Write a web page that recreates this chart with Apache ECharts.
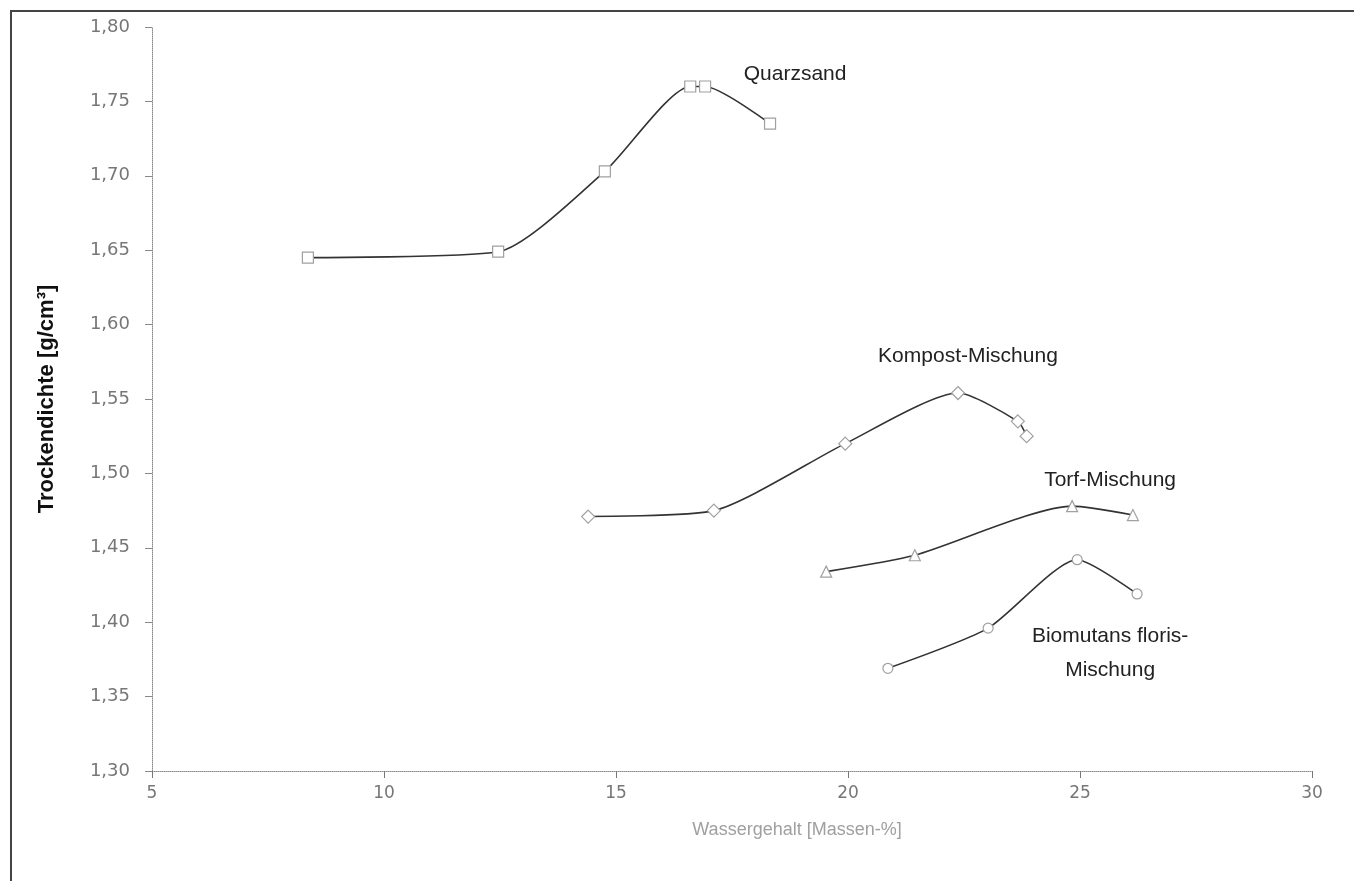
<!DOCTYPE html>
<html>
<head>
<meta charset="utf-8">
<script src="https://cdn.jsdelivr.net/npm/echarts@6/dist/echarts.min.js"></script>
<style>
  html, body { margin: 0; padding: 0; background: #fff; }
  #chart { width: 1354px; height: 881px; }
</style>
</head>
<body>
<div id="chart"></div>
<script>
// Proctor curves: dry density vs. water content for four substrates
const quarzsandX = [8.36, 12.46, 14.76, 16.6, 16.92, 18.32];
const quarzsandY = [1.645, 1.649, 1.703, 1.760, 1.760, 1.735];

const kompostX = [14.40, 17.11, 19.94, 22.37, 23.66, 23.85];
const kompostY = [1.471, 1.475, 1.520, 1.554, 1.535, 1.525];

const torfX = [19.53, 21.44, 24.83, 26.14];
const torfY = [1.434, 1.445, 1.478, 1.472];

const biomutansX = [20.86, 23.02, 24.94, 26.23];
const biomutansY = [1.369, 1.396, 1.442, 1.419];

const xTicks = [5, 10, 15, 20, 25, 30];
const yTicks = [1.30, 1.35, 1.40, 1.45, 1.50, 1.55, 1.60, 1.65, 1.70, 1.75, 1.80];

const seriesNames = ['Quarzsand', 'Kompost-Mischung', 'Torf-Mischung', 'Biomutans floris-\nMischung'];

const pairs = (xs, ys) => xs.map((x, i) => [x, ys[i]]);

const chart = echarts.init(document.getElementById('chart'));

const lineStyle = { color: '#333', width: 1.6 };
const markerStyle = { color: '#fff', borderColor: '#a0a0a0', borderWidth: 1.2 };
const labelFont = { fontFamily: 'Liberation Sans', fontSize: 21, color: '#222' };

function curve(name, data, symbol, size, labelPoint, offset, position, align) {
  return {
    name: name,
    type: 'line',
    data: data.map((d, i) => i === labelPoint ? {
      value: d,
      label: Object.assign({
        show: true, formatter: name, position: position || 'top',
        offset: offset, align: align || 'center', lineHeight: 34
      }, labelFont)
    } : d),
    smooth: 0.22,
    symbol: symbol,
    symbolSize: size,
    showAllSymbol: true,
    lineStyle: lineStyle,
    itemStyle: markerStyle,
    z: 3
  };
}

const option = {
  backgroundColor: '#fff',
  animation: false,
  grid: { left: 152, right: 42, top: 27, bottom: 110 },
  xAxis: {
    type: 'value',
    min: xTicks[0],
    max: xTicks[xTicks.length - 1],
    interval: 5,
    name: 'Wassergehalt [Massen-%]',
    nameLocation: 'middle',
    nameGap: 50,
    nameTextStyle: {
      fontFamily: 'Liberation Sans', fontSize: 18, color: '#a0a0a0',
      padding: [0, 0, 0, 130]
    },
    axisLine: { lineStyle: { color: '#8a8a8a', type: 'dotted', width: 1 } },
    axisTick: { show: true, length: 7, inside: false, lineStyle: { color: '#777', width: 1 } },
    axisLabel: { fontFamily: 'DejaVu Sans', fontSize: 17, color: '#777', margin: 14 },
    splitLine: { show: false }
  },
  yAxis: {
    type: 'value',
    min: yTicks[0],
    max: yTicks[yTicks.length - 1],
    interval: 0.05,
    name: 'Trockendichte [g/cm³]',
    nameLocation: 'middle',
    nameGap: 94,
    nameTextStyle: { fontFamily: 'Liberation Sans', fontSize: 22, fontWeight: 'bold', color: '#111' },
    axisLine: { show: true, lineStyle: { color: '#8a8a8a', type: 'dotted', width: 1 } },
    axisTick: { show: true, length: 7, lineStyle: { color: '#888', width: 1 } },
    axisLabel: {
      fontFamily: 'DejaVu Sans', fontSize: 18, color: '#777', margin: 22,
      formatter: v => v.toFixed(2).replace('.', ',')
    },
    splitLine: { show: false }
  },
  graphic: [
    // frame along the top and left edges
    { type: 'polyline', shape: { points: [[11, 881], [11, 11], [1354, 11]] },
      style: { stroke: '#444', lineWidth: 2, fill: null }, silent: true }
  ],
  series: [
    curve(seriesNames[0], pairs(quarzsandX, quarzsandY), 'rect', 11, 4, [90, 16]),
    curve(seriesNames[1], pairs(kompostX, kompostY), 'diamond', 13, 3, [10, -8]),
    curve(seriesNames[2], pairs(torfX, torfY), 'triangle', 11, 2, [38, 2]),
    curve(seriesNames[3], pairs(biomutansX, biomutansY), 'circle', 10, 1, [122, -20], 'bottom')
  ]
};

chart.setOption(option);
</script>
</body>
</html>
